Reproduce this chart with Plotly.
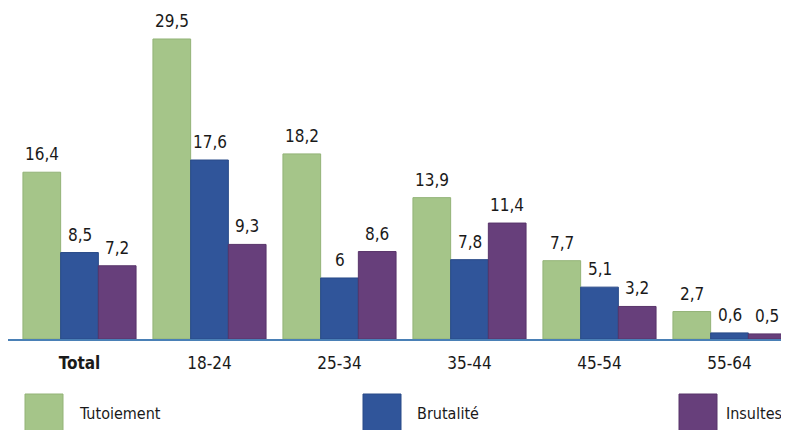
import plotly.graph_objects as go

categories = ["Total", "18-24", "25-34", "35-44", "45-54", "55-64"]
tick_labels = ["<b>Total</b>", "18-24", "25-34", "35-44", "45-54", "55-64"]
series_names = ["Tutoiement", "Brutalité", "Insultes"]
tutoiement = [16.4, 29.5, 18.2, 13.9, 7.7, 2.7]
brutalite = [8.5, 17.6, 6.0, 7.8, 5.1, 0.6]
insultes = [7.2, 9.3, 8.6, 11.4, 3.2, 0.5]
series_values = [tutoiement, brutalite, insultes]
colors = ["#a5c589", "#30559a", "#673f7b"]
edge_colors = ["#93b377", "#284a88", "#58346a"]

FONT = "DejaVu Sans Condensed, Open Sans, sans-serif"
BARGAP = 0.13
N = len(series_names)
BW = (1 - BARGAP) / N


def fmt(v):
    s = ("%.1f" % v).rstrip("0").rstrip(".")
    return s.replace(".", ",")


# page has 8px body margin: figure occupies screen x 8..789, y 8..430
W, H = 781, 422
AXIS_Y = 331  # in figure px
PX_PER_UNIT = 10.17

fig = go.Figure()
for i, (name, vals, c, ec) in enumerate(zip(series_names, series_values, colors, edge_colors)):
    xs = list(range(len(categories)))
    fig.add_trace(go.Bar(
        x=xs, y=vals, name=name,
        marker=dict(color=c, line=dict(color=ec, width=1)),
        showlegend=False,
    ))
    for x, v in zip(xs, vals):
        fig.add_annotation(x=x + (i - (N - 1) / 2) * BW, y=v, text=fmt(v),
                           showarrow=False, yanchor="bottom", yshift=6,
                           font=dict(family=FONT, size=17, color="#1a1a1a"))

# custom legend (large swatches), screen coords -> paper
legend_sq = [(25, 63, 77, "left"), (363, 401, 415, "left"), (679, 717, 724, "left")]
for name, c, ec, (sx0, sx1, tx, anc) in zip(series_names, colors, edge_colors, legend_sq):
    fig.add_shape(type="rect", xref="paper", yref="paper",
                  x0=(sx0 - 8) / W, x1=(sx1 - 8) / W,
                  y0=(339 - 432) / AXIS_Y, y1=(339 - 394) / AXIS_Y,
                  fillcolor=c, line=dict(color=ec, width=1))
    fig.add_annotation(xref="paper", yref="paper", x=(tx - 8) / W,
                       y=(339 - 413) / AXIS_Y, text=name, showarrow=False,
                       xanchor=anc, yanchor="middle",
                       font=dict(family=FONT, size=16, color="#1a1a1a"))

fig.update_layout(
    width=W, height=H,
    margin=dict(l=0, r=0, t=0, b=H - AXIS_Y, autoexpand=False),
    barmode="group", bargap=BARGAP, bargroupgap=0,
    plot_bgcolor="white", paper_bgcolor="white",
    xaxis=dict(range=[-0.55, -0.55 + W / 130], tickmode="array",
               tickvals=list(range(len(categories))), ticktext=tick_labels,
               showgrid=False, zeroline=False, showline=True,
               linecolor="#4a80b6", linewidth=2, ticks="", ticklabelstandoff=8,
               tickfont=dict(family=FONT, size=17, color="#1a1a1a")),
    yaxis=dict(range=[0, AXIS_Y / PX_PER_UNIT], visible=False),
    showlegend=False,
)

fig.write_html("out.html")
